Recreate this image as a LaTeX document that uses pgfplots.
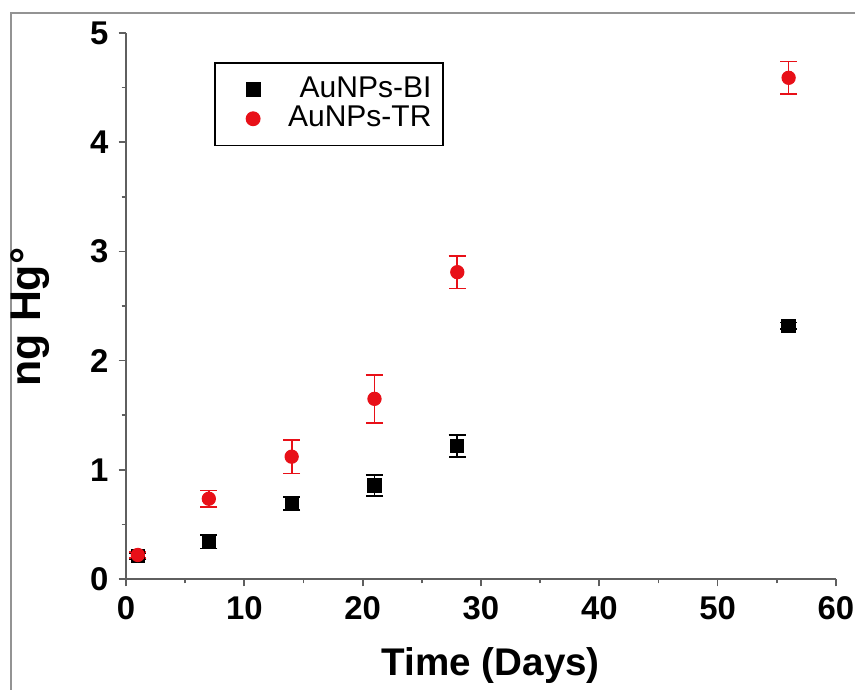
\documentclass[border=0pt]{standalone}
\usepackage{fontspec}
\setmainfont{Liberation Sans}
\usepackage{pgfplots}
\pgfplotsset{compat=1.18}
\definecolor{mred}{RGB}{232,16,24}
\definecolor{axgray}{RGB}{95,95,95}
\pgfplotstableread{
x y e
1 0.21 0.03
7 0.34 0.06
14 0.69 0.06
21 0.855 0.095
28 1.22 0.10
56 2.32 0.03
}\bi
\pgfplotstableread{
x y e
1 0.22 0.03
7 0.735 0.076
14 1.12 0.155
21 1.65 0.22
28 2.81 0.15
56 4.59 0.15
}\tr
\pgfplotsset{mylegimg/.style={legend image code/.code={\path[draw=none,fill=none] (0cm,0cm) -- (0.76cm,0cm); \draw[##1, only marks] plot coordinates {(0.4cm,0cm)};}}}
\begin{document}
\begin{tikzpicture}[x=0.35pt,y=0.35pt]
\useasboundingbox (0,0) rectangle (855,690);
\draw[gray!85, line width=0.8pt] (11,0) -- (11,677) -- (855,677);
\begin{axis}[
  at={(44.1pt,38.85pt)}, anchor=south west,
  scale only axis, width=248.5pt, height=191.1pt,
  xmin=0, xmax=60, ymin=0, ymax=5,
  axis lines=left, axis line style={-, axgray, line width=0.7pt},
  tick align=outside, tick style={axgray, line width=0.6pt},
  major tick length=2.6pt, minor tick length=1.5pt,
  xtick={0,10,...,60}, ytick={0,1,...,5},
  minor x tick num=1, minor y tick num=1,
  ticklabel style={font=\fontsize{11.5}{12}\selectfont\bfseries},
  /pgf/number format/assume math mode=true,
  xlabel={Time (Days)}, ylabel={ng Hg°},
  xlabel style={font=\fontsize{13.5}{15}\selectfont\bfseries, at={(axis description cs:0.514,-0.158)}, anchor=center},
  ylabel style={font=\fontsize{15}{16}\selectfont\bfseries, at={(axis description cs:-0.135,0.48)}, anchor=center},
  legend style={at={(0.124,0.947)}, anchor=north west, draw=black, line width=0.6pt,
    font=\fontsize{10.5}{12}\selectfont, inner xsep=2pt, inner ysep=3pt, row sep=-2.5pt,
    column sep=0pt, cells={anchor=east}},
  legend cell align=right,
  clip=false,
]
\addplot[only marks, mylegimg, mark=square*, mark size=2.3pt, black,
  error bars/.cd, y dir=both, y explicit,
  error bar style={line width=0.6pt, black},
  error mark options={rotate=90, mark size=3pt, line width=0.6pt, black}]
  table[x=x, y=y, y error=e] {\bi};
\addlegendentry{AuNPs-BI}
\addplot[only marks, mylegimg, mark=*, mark size=2.3pt, mred,
  error bars/.cd, y dir=both, y explicit,
  error bar style={line width=0.6pt, mred},
  error mark options={rotate=90, mark size=3pt, line width=0.6pt, mred}]
  table[x=x, y=y, y error=e] {\tr};
\addlegendentry{AuNPs-TR}
\end{axis}
\end{tikzpicture}
\end{document}
